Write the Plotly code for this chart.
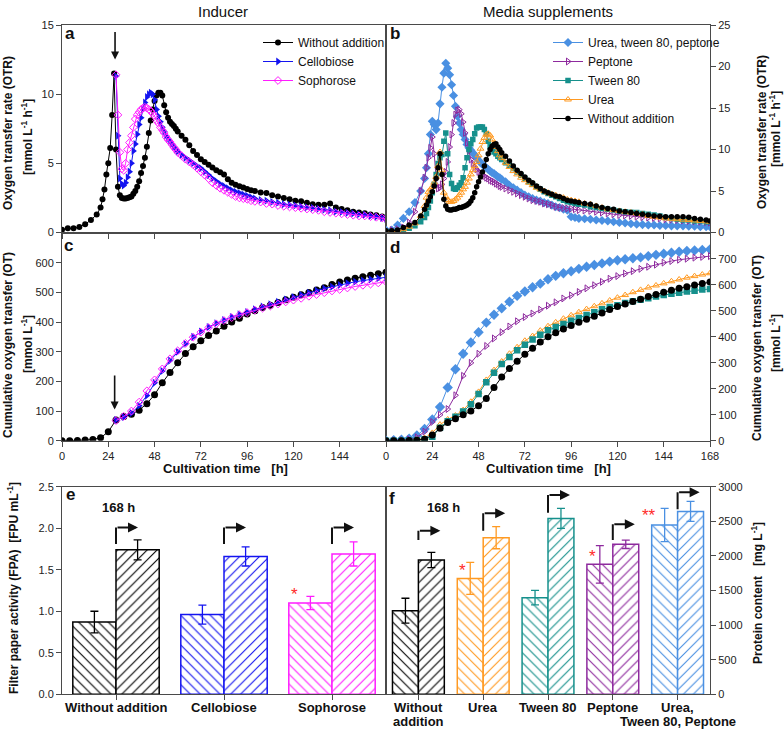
import plotly.graph_objects as go

W, H = 784, 731
FONT = "Liberation Sans, Arial, sans-serif"

# ---------------- time grids (h) ----------------
T_OTR = [0, 3, 6, 9, 12, 15, 18] + list(range(20, 61)) + list(range(62, 101, 2)) + list(range(103, 167, 3)) + [168]
T_OTR_IND = list(range(28, 61)) + list(range(62, 101, 2)) + list(range(103, 167, 3)) + [168]
T_OT = list(range(0, 169, 4))
T_OT_IND = list(range(28, 169, 4))

# ---------------- panel a : OTR, inducer ----------------
A_WITHOUT = [0.2, 0.3, 0.3, 0.4, 0.6, 0.9, 1.3,
             1.8, 2.4, 3.1, 4.2, 5.0, 6.1, 8.5, 11.5, 6.0, 3.3, 2.7, 2.5, 2.45, 2.45, 2.5, 2.55, 2.6, 2.8, 3.0, 3.3,
             3.7, 4.3, 4.8, 5.4, 6.2, 7.2, 8.1, 8.9, 9.5, 9.9, 10.1, 10.1, 9.9, 9.2, 8.7, 8.3, 8.0, 7.85, 7.7, 7.5, 7.3,
             7.0, 6.7, 6.3, 5.9, 5.6, 5.3, 5.1, 4.9, 4.7, 4.5, 4.35, 4.2, 3.85, 3.6, 3.45, 3.35, 3.25, 3.15, 3.05, 3.0,
             2.9, 2.85, 2.7, 2.6, 2.5, 2.4, 2.3, 2.25, 2.15, 2.05, 2.0, 2.0, 2.1, 1.8, 1.7, 1.6, 1.5, 1.45, 1.4, 1.3,
             1.25, 1.15, 1.05]
A_CELLO = [11.3, 7.0, 3.9, 3.5, 3.4, 3.6, 4.0, 4.4, 5.0, 5.9, 6.4, 7.1, 7.8, 8.3, 8.9, 9.4, 9.8, 10.0, 10.1, 10.0,
           9.6, 8.9, 8.4, 8.0, 7.6, 7.3, 7.0, 6.8, 6.6, 6.4, 6.2, 6.0, 5.85,
           5.6, 5.4, 5.2, 5.0, 4.8, 4.65, 4.4, 4.15, 3.9, 3.7, 3.5, 3.35, 3.2, 3.05, 2.95, 2.85, 2.75, 2.65, 2.55, 2.45,
           2.35, 2.3, 2.2, 2.15, 2.05, 2.0, 1.95, 1.88, 1.82, 1.78, 1.72, 1.65, 1.6, 1.52, 1.48, 1.42, 1.38, 1.32,
           1.28, 1.2, 1.15, 1.05, 1.0]
A_SOPH = [11.4, 8.5, 5.8, 4.6, 4.5, 5.0, 6.0, 6.5, 7.0, 7.6, 8.2, 8.5, 8.7, 8.9, 9.0, 9.05, 9.0, 8.9, 8.8, 8.6,
          8.4, 8.1, 7.9, 7.6, 7.4, 7.2, 6.9, 6.7, 6.55, 6.35, 6.15, 6.0, 5.8,
          5.55, 5.3, 5.1, 4.9, 4.65, 4.4, 4.15, 3.9, 3.6, 3.4, 3.2, 3.05, 2.9, 2.75, 2.6, 2.5, 2.45, 2.4, 2.3, 2.25,
          2.2, 2.1, 2.05, 1.95, 1.9, 1.85, 1.8, 1.75, 1.7, 1.65, 1.6, 1.5, 1.45, 1.4, 1.35, 1.3, 1.25, 1.2, 1.2,
          1.15, 1.1, 1.05, 1.0]

# ---------------- panel b : OTR, media supplements ----------------
B_UTP = [0.3, 0.3, 0.9, 1.7, 2.5, 3.6, 5.0,
         6.5, 7.8, 9.5, 11.8, 13.4, 13.0, 12.4, 13.2, 15.5, 17.5, 19.2, 20.4, 19.8, 19.0, 17.8, 16.5, 15.2, 14.0,
         13.2, 12.4, 11.8, 11.2, 10.6, 10.2, 9.9, 9.6, 9.3, 9.0, 8.7, 8.4, 8.2, 8.0, 7.8, 7.6, 7.4, 7.2, 7.1, 6.9,
         6.7, 6.6, 6.4,
         6.1, 5.7, 5.4, 5.1, 4.8, 4.5, 4.3, 4.1, 3.9, 3.8, 3.6, 3.5, 3.3, 3.1, 3.0, 2.8, 2.7, 1.9, 1.8, 1.7,
         1.65, 1.6, 1.5, 1.45, 1.4, 1.3, 1.2, 1.15, 1.05, 1.0, 0.95, 0.9, 0.9, 0.85, 0.85, 0.8, 0.8, 0.8, 0.75,
         0.75, 0.7, 0.7, 0.7]
B_PEP = [0.2, 0.3, 0.4, 0.6, 1.2, 2.5, 5.0,
         6.6, 7.8, 9.0, 10.2, 11.5, 9.5, 6.5, 5.3, 5.4, 5.8, 6.5, 7.3, 8.5, 10.3, 11.8, 13.2, 14.2, 14.7, 14.8,
         14.3, 13.3, 12.0, 10.8, 9.8, 8.8, 8.3, 7.9, 7.6, 7.3, 7.1, 6.9, 6.8, 6.6, 6.5, 6.3, 6.2, 6.1, 5.9, 5.8,
         5.6, 5.5,
         5.3, 5.1, 4.9, 4.7, 4.5, 4.3, 4.1, 3.9, 3.8, 3.7, 3.5, 3.4, 3.3, 3.1, 3.0, 2.95, 2.9, 2.85, 2.8, 2.7,
         2.65, 2.6, 2.5, 2.4, 2.3, 2.2, 2.1, 2.05, 2.0, 1.9, 1.85, 1.8, 1.75, 1.7, 1.6, 1.55, 1.5, 1.45, 1.4,
         1.35, 1.3, 1.25, 1.2]
B_TWEEN = [0.1, 0.1, 0.2, 0.3, 0.5, 0.8, 1.3,
           1.8, 2.3, 3.0, 3.8, 4.8, 5.8, 7.0, 8.3, 9.0, 9.4, 11.0, 12.0, 9.5, 7.0, 5.9, 5.3, 5.2, 5.4, 5.7, 6.0,
           6.6, 7.8, 9.0, 10.0, 10.7, 11.2, 11.9, 12.6, 12.7, 12.7, 12.7, 12.4, 11.9, 11.0, 10.4, 10.0, 9.7, 9.5,
           9.2, 9.0, 8.8,
           8.4, 8.1, 7.7, 7.3, 6.9, 6.5, 6.1, 5.8, 5.5, 5.2, 4.9, 4.7, 4.5, 4.3, 4.1, 3.9, 3.7, 3.6, 3.5, 3.4,
           3.3, 3.1, 3.0, 2.9, 2.8, 2.7, 2.6, 2.5, 2.45, 2.4, 2.3, 2.2, 2.1, 2.0, 1.8, 1.7, 1.6, 1.5, 1.5, 1.4,
           1.4, 1.3, 1.3]
B_UREA = [0.1, 0.1, 0.2, 0.4, 0.7, 1.1, 2.0,
          3.2, 4.2, 4.9, 5.2, 5.5, 6.0, 6.7, 8.0, 9.7, 7.5, 4.8, 4.3, 3.9, 3.7, 3.7, 3.8, 4.0, 4.2, 4.5, 4.8,
          5.2, 5.5, 6.0, 6.5, 7.0, 7.5, 8.0, 8.5, 9.3, 10.1, 10.9, 11.4, 11.8, 11.9, 11.7, 11.2, 10.7, 10.3, 9.8,
          9.3, 9.0,
          8.4, 7.9, 7.4, 7.0, 6.6, 6.3, 6.0, 5.7, 5.4, 5.2, 5.0, 4.8, 4.6, 4.5, 4.3, 4.2, 4.0, 3.9, 3.8, 3.7,
          3.5, 3.4, 3.2, 3.0, 2.8, 2.7, 2.6, 2.5, 2.4, 2.3, 2.2, 2.0, 1.9, 1.8, 1.7, 1.65, 1.6, 1.55, 1.5, 1.45,
          1.4, 1.35, 1.3]
B_WITHOUT = [0.2, 0.2, 0.3, 0.6, 0.9, 1.2, 2.0,
             2.8, 3.3, 3.8, 4.3, 4.9, 5.6, 6.5, 7.8, 9.5, 7.0, 4.0, 3.2, 2.8, 2.7, 2.7, 2.8, 2.8, 2.9, 3.0, 3.0,
             3.1, 3.2, 3.3, 3.5, 3.8, 4.2, 4.8, 5.5, 6.1, 6.7, 7.3, 8.0, 8.8, 9.5, 10.0, 10.4, 10.6, 10.7, 10.3,
             10.0, 9.6,
             9.2, 8.6, 8.0, 7.5, 7.1, 6.7, 6.3, 6.0, 5.6, 5.3, 5.0, 4.8, 4.6, 4.4, 4.3, 4.1, 3.9, 3.8, 3.7, 3.6,
             3.5, 3.4, 3.2, 3.0, 2.9, 2.8, 2.6, 2.5, 2.4, 2.3, 2.2, 2.1, 2.0, 1.95, 1.9, 1.9, 1.9, 1.9, 1.85,
             1.7, 1.6, 1.5, 1.4]

# ---------------- panel c : cumulative OT, inducer ----------------
C_WITHOUT = [0, 0, 1, 2, 4, 10, 30, 70, 82, 89, 103, 125, 155, 195, 230, 263, 294, 317, 337, 355, 370, 386, 400,
             413, 427, 438, 449, 457, 466, 475, 484, 492, 500, 508, 516, 527, 535, 542, 548, 553, 558, 563, 568]
C_CELLO = [70, 80, 93, 118, 152, 195, 235, 270, 300, 327, 350, 368, 383, 396, 407, 417, 426, 434, 443, 452,
           460, 468, 476, 484, 492, 499, 506, 513, 519, 525, 531, 536, 540, 544, 548, 551]
C_SOPH = [68, 82, 100, 130, 168, 205, 242, 276, 303, 328, 349, 366, 381, 394, 405, 415, 424, 432, 440, 447,
          454, 461, 468, 474, 480, 487, 493, 499, 505, 510, 515, 520, 524, 528, 532, 536]

# ---------------- panel d : cumulative OT, media supplements ----------------
D_UTP = [0, 2, 4, 8, 20, 45, 82, 130, 205, 275, 335, 378, 418, 455, 485, 510, 535, 558, 575, 591, 605, 622, 635,
         645, 653, 662, 670, 677, 683, 690, 695, 699, 703, 706, 711, 716, 720, 724, 728, 731, 733, 735, 737]
D_PEP = [0, 1, 2, 5, 13, 35, 72, 100, 122, 175, 250, 300, 335, 365, 394, 418, 440, 460, 476, 490, 505, 520, 533,
         548, 560, 573, 587, 599, 612, 624, 634, 644, 653, 662, 670, 678, 686, 692, 697, 701, 705, 708, 711]
D_TWEEN = [0, 0, 0, 1, 2, 6, 15, 50, 75, 92, 112, 140, 180, 225, 262, 295, 322, 348, 370, 390, 408, 425, 438,
           450, 462, 473, 484, 495, 506, 515, 522, 530, 537, 543, 549, 555, 561, 566, 570, 575, 578, 582, 584]
D_UREA = [0, 0, 1, 2, 4, 10, 30, 62, 82, 97, 118, 150, 188, 234, 272, 305, 335, 360, 385, 403, 424, 441, 456,
          470, 483, 495, 507, 518, 529, 540, 551, 561, 572, 581, 590, 598, 606, 614, 621, 628, 634, 640, 645]
D_WITHOUT = [0, 0, 0, 1, 2, 6, 22, 48, 70, 85, 100, 114, 135, 163, 205, 245, 278, 306, 333, 356, 380, 400, 416,
             430, 444, 456, 468, 479, 492, 505, 517, 527, 536, 545, 555, 563, 572, 580, 587, 593, 600, 606, 611]

# ---------------- panel e : FPA ----------------
E_CATS = ["Without addition", "Cellobiose", "Sophorose"]
E_EARLY = [0.87, 0.96, 1.10]
E_EARLY_ERR = [0.13, 0.115, 0.08]
E_168 = [1.74, 1.66, 1.69]
E_168_ERR = [0.12, 0.115, 0.145]
E_STARS = ["", "", "*"]

# ---------------- panel f : protein ----------------
F_CATS = ["Without addition", "Urea", "Tween 80", "Peptone", "Urea, Tween 80, Peptone"]
F_LABEL_LINES = [("Without", "addition"), ("Urea", ""), ("Tween 80", ""), ("Peptone", ""),
                 ("Urea,", "Tween 80, Peptone")]
F_EARLY = [1208, 1675, 1396, 1878, 2446]
F_EARLY_ERR = [180, 230, 105, 270, 240]
F_168 = [1940, 2263, 2542, 2167, 2643]
F_168_ERR = [110, 160, 145, 60, 145]
F_STARS = ["", "*", "", "*", "**"]

for s in (A_WITHOUT, B_UTP, B_PEP, B_TWEEN, B_UREA, B_WITHOUT):
    assert len(s) == len(T_OTR), len(s)
for s in (A_CELLO, A_SOPH):
    assert len(s) == len(T_OTR_IND), len(s)
for s in (C_WITHOUT, D_UTP, D_PEP, D_TWEEN, D_UREA, D_WITHOUT):
    assert len(s) == len(T_OT), len(s)
for s in (C_CELLO, C_SOPH):
    assert len(s) == len(T_OT_IND), len(s)

# ---------------- styles ----------------
K = "#000000"
CELLO = "#1414f0"
SOPH = "#ff1cff"
UTP = "#4a90e2"
PEP = "#8e2a9e"
TWEEN = "#16908c"
UREA = "#ff9a22"
E_COLORS = [K, CELLO, SOPH]
F_COLORS = [K, UREA, TWEEN, PEP, UTP]
AX = "#4a4a4a"

fig = go.Figure()


def line(x, y, color, symbol, size, name, xa, ya, legend=None, open_=False):
    mk = dict(symbol=symbol, size=size, color=color)
    if open_:
        mk["line"] = dict(color=color, width=1)
    fig.add_trace(go.Scatter(
        x=x, y=y, mode="lines+markers", name=name,
        line=dict(color=color, width=1), marker=mk,
        xaxis=xa, yaxis=ya, showlegend=legend is not None,
        legend=legend if legend else "legend"))


# panel a
line(T_OTR, A_WITHOUT, K, "circle", 6, "Without addition", "x", "y", "legend")
line(T_OTR_IND, A_CELLO, CELLO, "triangle-right", 7, "Cellobiose", "x", "y", "legend")
line(T_OTR_IND, A_SOPH, SOPH, "diamond-open", 6, "Sophorose", "x", "y", "legend", True)
# panel b
line(T_OTR, B_UTP, UTP, "diamond", 7, "Urea, tween 80, peptone", "x2", "y2", "legend2")
line(T_OTR, B_PEP, PEP, "triangle-right-open", 6, "Peptone", "x2", "y2", "legend2", True)
line(T_OTR, B_TWEEN, TWEEN, "square", 5.5, "Tween 80", "x2", "y2", "legend2")
line(T_OTR, B_UREA, UREA, "triangle-up-open", 6, "Urea", "x2", "y2", "legend2", True)
line(T_OTR, B_WITHOUT, K, "circle", 5.5, "Without addition", "x2", "y2", "legend2")
# panel c
line(T_OT, C_WITHOUT, K, "circle", 7, "Without addition", "x3", "y3")
line(T_OT_IND, C_CELLO, CELLO, "triangle-right", 7, "Cellobiose", "x3", "y3")
line(T_OT_IND, C_SOPH, SOPH, "diamond-open", 6, "Sophorose", "x3", "y3", None, True)
# panel d
line(T_OT, D_UTP, UTP, "diamond", 8, "Urea, tween 80, peptone", "x4", "y4")
line(T_OT, D_PEP, PEP, "triangle-right-open", 6, "Peptone", "x4", "y4", None, True)
line(T_OT, D_UREA, UREA, "triangle-up-open", 6, "Urea", "x4", "y4", None, True)
line(T_OT, D_TWEEN, TWEEN, "square", 6.5, "Tween 80", "x4", "y4")
line(T_OT, D_WITHOUT, K, "circle", 7, "Without addition", "x4", "y4")


def bars(cats, early, early_err, late, late_err, colors, xa, ya, capw):
    for i, c in enumerate(cats):
        col = colors[i]
        for vals, errs, off, shp in ((early, early_err, -0.4, "\\"), (late, late_err, 0.0, "/")):
            fig.add_trace(go.Bar(
                x=[c], y=[vals[i]], offset=off, width=0.4, xaxis=xa, yaxis=ya, showlegend=False,
                marker=dict(color="white", line=dict(color=col, width=1.5),
                            pattern=dict(shape=shp, fgcolor=col, bgcolor="white", size=7,
                                         solidity=0.16, fillmode="replace")),
                error_y=dict(type="data", array=[errs[i]], color=col, thickness=1.3, width=capw)))


bars(E_CATS, E_EARLY, E_EARLY_ERR, E_168, E_168_ERR, E_COLORS, "x5", "y5", 4)
bars(F_CATS, F_EARLY, F_EARLY_ERR, F_168, F_168_ERR, F_COLORS, "x6", "y6", 4)

# ---------------- axes ----------------
def px_x(p):
    return p / W


def px_y(p):
    return 1 - p / H


XL = [px_x(62), px_x(386)]
XR = [px_x(386), px_x(710)]
Y1 = [px_y(232.5), px_y(25)]
Y2 = [px_y(440.7), px_y(232.5)]
Y3 = [px_y(694.3), px_y(486.7)]

base = dict(showline=True, linecolor=AX, linewidth=1, mirror=True, ticks="outside", ticklen=5,
            tickcolor=AX, tickfont=dict(size=11, color="#222", family=FONT), showgrid=False,
            zeroline=False)

TIME_TICKS = [0, 24, 48, 72, 96, 120, 144, 168]
fig.update_layout(
    xaxis=dict(base, domain=XL, anchor="y", range=[0, 168], tickvals=TIME_TICKS, showticklabels=False),
    yaxis=dict(base, domain=Y1, anchor="x", range=[0, 15], dtick=5),
    xaxis2=dict(base, domain=XR, anchor="y2", range=[0, 168], tickvals=TIME_TICKS, showticklabels=False),
    yaxis2=dict(base, domain=Y1, anchor="x2", range=[0, 25], dtick=5, side="right"),
    xaxis3=dict(base, domain=XL, anchor="y3", range=[0, 168], tickvals=TIME_TICKS,
                ticktext=["0", "24", "48", "72", "96", "120", "144", ""]),
    yaxis3=dict(base, domain=Y2, anchor="x3", range=[0, 702], tickvals=[0, 100, 200, 300, 400, 500, 600]),
    xaxis4=dict(base, domain=XR, anchor="y4", range=[0, 168], tickvals=TIME_TICKS),
    yaxis4=dict(base, domain=Y2, anchor="x4", range=[0, 802], side="right",
                tickvals=[0, 100, 200, 300, 400, 500, 600, 700]),
    xaxis5=dict(base, domain=XL, anchor="y5", type="category", range=[-0.5, 2.5], showticklabels=False),
    yaxis5=dict(base, domain=Y3, anchor="x5", range=[0, 2.5], dtick=0.5, tickformat=".1f"),
    xaxis6=dict(base, domain=XR, anchor="y6", type="category", range=[-0.5, 4.5], showticklabels=False),
    yaxis6=dict(base, domain=Y3, anchor="x6", range=[0, 3000], dtick=500, side="right"),
)

# ---------------- annotations ----------------
ann = []


def text(x, y, t, size=12, angle=0, color="#111", xanchor="center", yanchor="middle"):
    ann.append(dict(x=px_x(x), y=px_y(y), xref="paper", yref="paper", text=t, showarrow=False,
                    textangle=angle, font=dict(size=size, color=color, family=FONT),
                    xanchor=xanchor, yanchor=yanchor))


text(223, 11, "Inducer", 15)
text(548, 11, "Media supplements", 15)
for (x, y, t) in ((70, 33, "a"), (395, 33, "b"), (68, 245, "c"), (395, 247, "d"), (70, 495, "e"), (392, 498, "f")):
    text(x, y, "<b>%s</b>" % t, 17)

OTR_T = "<b>Oxygen transfer rate (OTR)</b>"
OTR_U = "<b>[mmol L<sup>-1</sup> h<sup>-1</sup>]</b>"
OT_T = "<b>Cumulative oxygen transfer (OT)</b>"
OT_U = "<b>[mmol L<sup>-1</sup>]</b>"
text(8, 133, OTR_T, 12, -90)
text(27, 137, OTR_U, 12, -90)
text(8, 345, OT_T, 12, -90)
text(27, 344, OT_U, 12, -90)
text(13, 588, "<b>Filter paper activity (FPA)&nbsp;&nbsp;[FPU mL<sup>-1</sup>]</b>", 12, -90)
text(762, 132, OTR_T, 12, -90)
text(775, 129, OTR_U, 12, -90)
text(757, 348, OT_T, 12, -90)
text(775, 343, OT_U, 12, -90)
text(757, 593, "<b>Protein content&nbsp;&nbsp;&nbsp;[mg L<sup>-1</sup>]</b>", 12, -90)
text(225, 468, "<b>Cultivation time&nbsp;&nbsp;&nbsp;[h]</b>", 13)
text(548, 468, "<b>Cultivation time&nbsp;&nbsp;&nbsp;[h]</b>", 13)
text(118, 507, "<b>168 h</b>", 13)
text(443, 507, "<b>168 h</b>", 13)

# category labels (drawn at category positions of the bar axes)
for i, c in enumerate(E_CATS):
    ann.append(dict(x=i, y=px_y(707), xref="x5", yref="paper", text="<b>%s</b>" % c, showarrow=False,
                    font=dict(size=13, color="#111", family=FONT), xanchor="center", yanchor="middle"))
for i, (l1, l2) in enumerate(F_LABEL_LINES):
    for yy, t in ((707, l1), (721.5, l2)):
        if t:
            ann.append(dict(x=i, y=px_y(yy), xref="x6", yref="paper", text="<b>%s</b>" % t, showarrow=False,
                            font=dict(size=13, color="#111", family=FONT), xanchor="center",
                            yanchor="middle"))

# inducer addition arrows
ann.append(dict(x=27.5, y=12.5, xref="x", yref="y", ax=27.5, ay=14.6, axref="x", ayref="y", text="",
                showarrow=True, arrowhead=2, arrowsize=1, arrowwidth=1.6, arrowcolor="#111"))
ann.append(dict(x=27.3, y=105, xref="x3", yref="y3", ax=27.3, ay=225, axref="x3", ayref="y3", text="",
                showarrow=True, arrowhead=2, arrowsize=1, arrowwidth=1.6, arrowcolor="#111"))

# significance stars
for i, s in enumerate(E_STARS):
    if s:
        ann.append(dict(x=i - 0.4, y=E_EARLY[i], xref="x5", yref="y5", text=s, showarrow=False,
                        xanchor="left", yanchor="middle", xshift=0, yshift=8,
                        font=dict(size=17, color="#ff2a2a", family=FONT)))
for i, s in enumerate(F_STARS):
    if s:
        ann.append(dict(x=i - 0.4, y=F_EARLY[i], xref="x6", yref="y6", text=s, showarrow=False,
                        xanchor="left" if len(s) == 1 else "center", yanchor="middle",
                        xshift=0 if len(s) == 1 else -3, yshift=8 if len(s) == 1 else 10,
                        font=dict(size=17, color="#ff2a2a", family=FONT)))

# "168 h" step arrows
E_ARROWS = [(1.81, 2.01), (1.81, 2.01), (1.81, 2.01)]
F_ARROWS = [(2230, 2364), (2364, 2615), (2624, 2880), (2230, 2457), (2673, 2919)]
shapes = []
for xa, ya, arrows, ncat in (("x5", "y5", E_ARROWS, 3), ("x6", "y6", F_ARROWS, 5)):
    catw = 324.0 / ncat
    for i, (y0, y1) in enumerate(arrows):
        shapes.append(dict(type="line", xref=xa, yref=ya, x0=i, x1=i, y0=y0, y1=y1,
                           line=dict(color="#111", width=2)))
        ann.append(dict(x=i + 22.0 / catw, y=y1, xref=xa, yref=ya, ax=-22, ay=0, text="",
                        showarrow=True, arrowhead=2, arrowsize=1, arrowwidth=2, arrowcolor="#111"))

fig.update_layout(
    annotations=ann, shapes=shapes,
    width=W, height=H, margin=dict(l=0, r=0, t=0, b=0, autoexpand=False),
    paper_bgcolor="white", plot_bgcolor="white", barmode="overlay",
    font=dict(family=FONT, size=12, color="#111"),
    legend=dict(x=px_x(258), y=px_y(28), xanchor="left", yanchor="top", bgcolor="rgba(0,0,0,0)",
                font=dict(size=12, family=FONT), itemwidth=30, tracegroupgap=0),
    legend2=dict(x=px_x(548), y=px_y(28), xanchor="left", yanchor="top", bgcolor="rgba(0,0,0,0)",
                 font=dict(size=12, family=FONT), itemwidth=30, tracegroupgap=0),
)

fig.write_html("out.html", config={"displayModeBar": False},
               post_script="document.body.style.margin='0px';document.body.style.padding='0px';"
                           "document.documentElement.style.overflow='hidden';")
